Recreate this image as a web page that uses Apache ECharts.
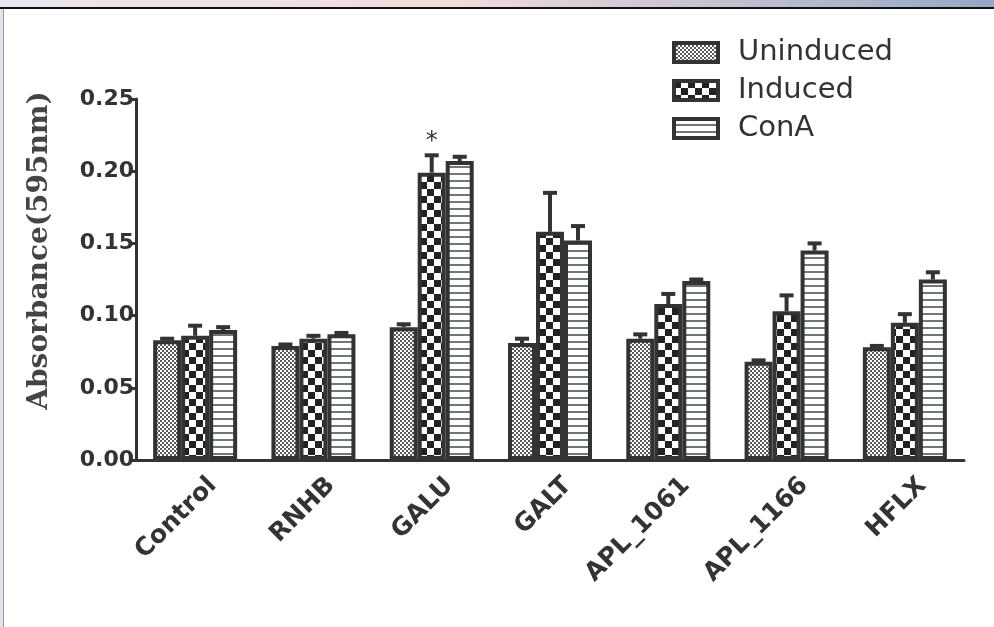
<!DOCTYPE html>
<html>
<head>
<meta charset="utf-8">
<script src="https://cdn.jsdelivr.net/npm/echarts@6/dist/echarts.min.js"></script>
<style>
  html, body { margin: 0; padding: 0; background: #fff; }
  /* frame round the figure */
  .topband {
    position: absolute; left: 0; top: 0; width: 994px; height: 7px;
    background: linear-gradient(90deg, #e9e5ee 0%, #f3dcdc 45%, #c9c3d2 70%, #93a9c6 100%);
    border-bottom: 2px solid #111;
  }
  .leftband {
    position: absolute; left: 0; top: 9px; width: 3px; height: 618px;
    background: #e4e2ea; border-right: 1px solid #9a9a9a;
  }
  #chart { position: absolute; left: 0; top: 0; width: 994px; height: 627px; }
</style>
</head>
<body>
<div class="topband"></div>
<div class="leftband"></div>
<div id="chart"></div>
<script>
// categories and series
const categories = ['Control', 'RNHB', 'GALU', 'GALT', 'APL_1061', 'APL_1166', 'HFLX'];
const seriesNames = ['Uninduced', 'Induced', 'ConA'];
const uninduced = [0.083, 0.079, 0.092, 0.081, 0.084, 0.068, 0.078];
const induced = [0.086, 0.084, 0.199, 0.158, 0.108, 0.103, 0.095];
const conA = [0.090, 0.087, 0.207, 0.152, 0.124, 0.145, 0.125];
// error bars (upper only)
const uninducedErr = [0.001, 0.001, 0.002, 0.003, 0.003, 0.001, 0.001];
const inducedErr = [0.007, 0.002, 0.012, 0.027, 0.007, 0.011, 0.006];
const conAErr = [0.002, 0.001, 0.003, 0.010, 0.001, 0.005, 0.005];
// significance marks over the Induced bars
const inducedMarks = ['', '', '*', '', '', '', ''];
const yTicks = [0, 0.05, 0.10, 0.15, 0.20, 0.25];

const dark = '#333';
const barWidth = 28;

// fill patterns
function makePattern(kind) {
  const c = document.createElement('canvas');
  const g = c.getContext('2d');
  if (kind === 'fine') {
    c.width = 4; c.height = 4;
    g.fillStyle = '#fff'; g.fillRect(0, 0, 4, 4);
    g.fillStyle = '#5a5a5a';
    g.fillRect(0, 0, 2, 2); g.fillRect(2, 2, 2, 2);
  } else if (kind === 'checker') {
    c.width = 14; c.height = 14;
    g.fillStyle = '#fff'; g.fillRect(0, 0, 14, 14);
    g.fillStyle = '#222';
    g.fillRect(0, 0, 7, 7); g.fillRect(7, 7, 7, 7);
  } else {
    c.width = 4; c.height = 7;
    g.fillStyle = '#fff'; g.fillRect(0, 0, 4, 7);
    g.fillStyle = '#6f7777';
    g.fillRect(0, 5, 4, 2);
  }
  return { image: c, repeat: 'repeat' };
}
const patterns = [makePattern('fine'), makePattern('checker'), makePattern('stripes')];
const values = [uninduced, induced, conA];
const errors = [uninducedErr, inducedErr, conAErr];

const barSeries = seriesNames.map((name, i) => ({
  name: name,
  type: 'bar',
  barWidth: barWidth,
  barGap: '0%',
  data: values[i],
  itemStyle: { color: patterns[i], borderColor: dark, borderWidth: 4 },
  z: 2
}));

const errSeries = seriesNames.map((name, i) => ({
  type: 'custom',
  z: 3,
  data: categories.map((c, k) => [k, values[i][k], errors[i][k]]),
  renderItem: function (params, api) {
    const k = api.value(0);
    const off = (i - 1) * barWidth;
    const base = api.coord([k, api.value(1)]);
    const top = api.coord([k, api.value(1) + api.value(2)]);
    const x = base[0] + off;
    const children = [
      { type: 'line', shape: { x1: x, y1: base[1], x2: x, y2: top[1] }, style: { stroke: dark, lineWidth: 4 } },
      { type: 'line', shape: { x1: x - 7, y1: top[1], x2: x + 7, y2: top[1] }, style: { stroke: dark, lineWidth: 4 } }
    ];
    if (i === 1 && inducedMarks[k]) {
      children.push({
        type: 'text',
        style: { text: inducedMarks[k], x: x, y: top[1] - 2, align: 'center', verticalAlign: 'bottom', fill: dark, font: '24px "DejaVu Sans"' }
      });
    }
    return { type: 'group', children: children };
  }
}));

const chart = echarts.init(document.getElementById('chart'));
chart.setOption({
  animation: false,
  grid: { left: 136, right: 30, top: 99, bottom: 167 },
  legend: {
    data: seriesNames,
    orient: 'vertical',
    left: 667,
    top: 33,
    icon: 'rect',
    itemWidth: 44,
    itemHeight: 19,
    itemGap: 9,
    itemStyle: { borderColor: dark, borderWidth: 4 },
    textStyle: { fontFamily: 'DejaVu Sans', fontSize: 29, color: dark, padding: [0, 0, 0, 15] }
  },
  xAxis: {
    type: 'category',
    data: categories,
    axisLine: { lineStyle: { color: dark, width: 3 } },
    axisTick: { alignWithLabel: true, length: 9, lineStyle: { color: dark, width: 3 } },
    axisLabel: {
      rotate: 45,
      interval: 0,
      margin: 4,
      align: 'right',
      verticalAlign: 'top',
      lineHeight: 50,
      color: dark,
      fontFamily: 'DejaVu Sans',
      fontWeight: 'bold',
      fontSize: 25
    }
  },
  yAxis: {
    type: 'value',
    min: 0,
    max: 0.25,
    interval: 0.05,
    name: 'Absorbance(595nm)',
    nameLocation: 'middle',
    nameGap: 82,
    nameTextStyle: { fontFamily: 'DejaVu Serif', fontWeight: 'bold', fontSize: 28, color: '#444', padding: [0, 0, 0, 58] },
    splitLine: { show: false },
    axisLine: { show: true, lineStyle: { color: dark, width: 3 } },
    axisTick: { show: true, length: 6, lineStyle: { color: dark, width: 3 } },
    axisLabel: {
      margin: 2,
      color: dark,
      fontFamily: 'DejaVu Sans',
      fontWeight: 'bold',
      fontSize: 22,
      formatter: v => yTicks.find(t => Math.abs(t - v) < 1e-9).toFixed(2)
    }
  },
  series: barSeries.concat(errSeries)
});
</script>
</body>
</html>
